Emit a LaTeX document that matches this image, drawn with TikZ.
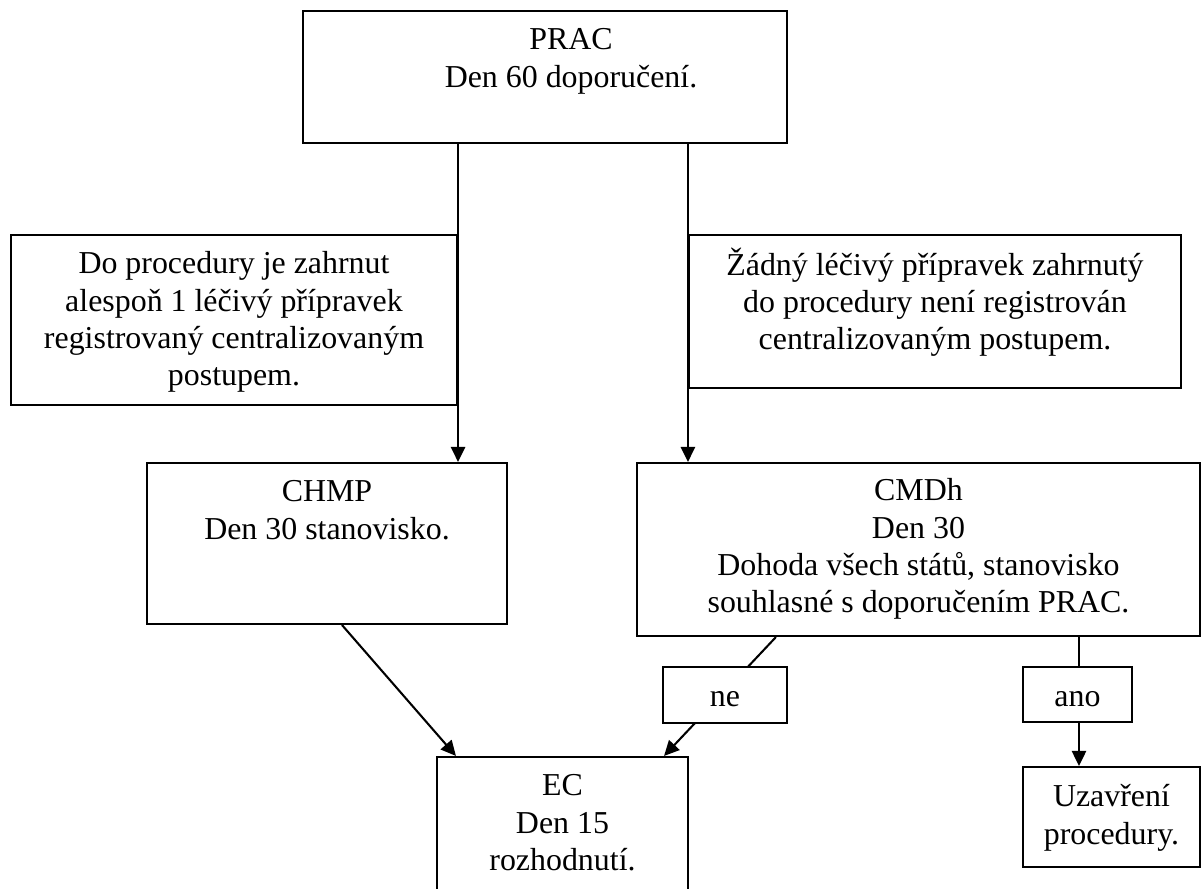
\documentclass[tikz,border=0pt]{standalone}
\usepackage{fontspec}
\setmainfont{Liberation Serif}
\usetikzlibrary{arrows.meta,positioning}
\pgfdeclarelayer{background}
\pgfsetlayers{background,main}
\newdimen\pxu \pxu=0.3636pt

\tikzset{
  box/.style={draw, line width=0.75pt, rectangle, inner sep=0pt, fill=white},
  boxtext/.style={align=center, inner sep=0pt, font=\fontsize{11.6}{13.55}\selectfont},
  tag/.style={box, font=\fontsize{11.6}{13.55}\selectfont, text height=8.7pt, text depth=0pt},
  flow/.style={line width=0.75pt, -{Triangle[length=5.5pt, width=5.2pt]}},
}

\begin{document}
\begin{tikzpicture}[x=\pxu, y=-\pxu]
  \useasboundingbox (0,0) rectangle (1202,889);
  \clip (0,0) rectangle (1202,889);
  \begin{pgfonlayer}{background}
    \fill[white] (0,0) rectangle (1202,889);
  \end{pgfonlayer}

  % boxes
  \node[box, minimum width=484\pxu, minimum height=132\pxu] (prac) at (545,77) {};
  \node[box, minimum width=446\pxu, minimum height=170\pxu] (cond1) at (234,320) {};
  \node[box, minimum width=492\pxu, minimum height=153\pxu] (cond2) at (935,311.5) {};
  \node[box, minimum width=360\pxu, minimum height=161\pxu] (chmp) at (327,543.5) {};
  \node[box, minimum width=563\pxu, minimum height=173\pxu] (cmdh) at (918.5,549.5) {};
  \node[box, minimum width=251\pxu, minimum height=163\pxu] (ec) at (562.5,838.5) {};
  \node[box, minimum width=177\pxu, minimum height=100\pxu] (uzav) at (1111.5,817) {};

  % texts
  \node[boxtext, below=13.4\pxu of prac.north, xshift=26\pxu] (prac-t)
    {\strut PRAC\\Den 60 doporučení.};
  \node[boxtext, below=13.4\pxu of cond1.north] (cond1-t)
    {\strut Do procedury je zahrnut\\alespoň 1 léčivý přípravek\\registrovaný centralizovaným\\postupem.};
  \node[boxtext, below=13.4\pxu of cond2.north] (cond2-t)
    {\strut Žádný léčivý přípravek zahrnutý\\do procedury není registrován\\centralizovaným postupem.};
  \node[boxtext, below=13.4\pxu of chmp.north] (chmp-t)
    {\strut CHMP\\Den 30 stanovisko.};
  \node[boxtext, below=12.4\pxu of cmdh.north] (cmdh-t)
    {\strut CMDh\\Den 30\\Dohoda všech států, stanovisko\\souhlasné s doporučením PRAC.};
  \node[boxtext, below=13.4\pxu of ec.north] (ec-t)
    {\strut EC\\Den 15\\rozhodnutí.};
  \node[boxtext, below=14.4\pxu of uzav.north] (uzav-t)
    {\strut Uzavření\\procedury.};

  % decisions
  \node[tag, minimum width=124\pxu, minimum height=56\pxu] (ne) at (725,695) {ne};
  \node[tag, minimum width=109\pxu, minimum height=55\pxu] (ano) at (1077.5,694.5) {ano};

  % connectors
  \draw[flow] (cond1.east |- prac.south) -- (cond1.east |- chmp.north);
  \draw[flow] (cond2.west |- prac.south) -- (cond2.west |- cmdh.north);
  \draw[flow] ([xshift=15\pxu]chmp.south) -- ([xshift=20\pxu]ec.north west);
  \begin{pgfonlayer}{background}
    \draw[flow] ([xshift=140\pxu]cmdh.south west) -- ([xshift=-25\pxu]ec.north east);
    \draw[flow] ([xshift=1.5\pxu]ano.center |- cmdh.south) -- ([xshift=1.5\pxu]ano.center |- uzav.north);
  \end{pgfonlayer}
\end{tikzpicture}
\end{document}
